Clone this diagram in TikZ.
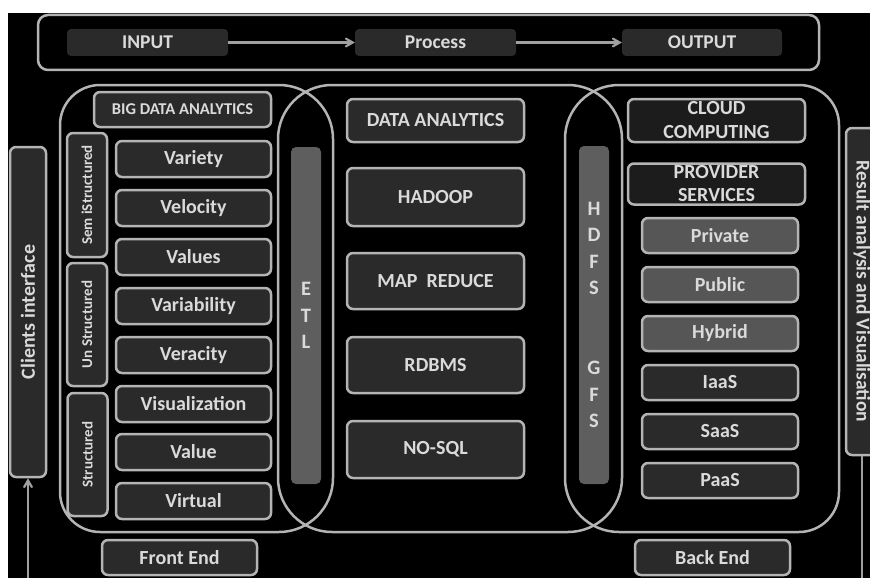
\documentclass[tikz,border=0pt]{standalone}
\usepackage{fontspec}
\setmainfont{Carlito}
\usepackage{xcolor}
\usepackage{tikz}
\usetikzlibrary{arrows}

\definecolor{edgegray}{HTML}{B4B4B4}
\definecolor{boxgray}{HTML}{2A2A2A}
\definecolor{darkbox}{HTML}{1C1C1C}
\definecolor{txtgray}{HTML}{DADADA}
\definecolor{midgray}{HTML}{565656}
\definecolor{bargray}{HTML}{5E5E5E}
\definecolor{linkgray}{HTML}{A0A0A0}

\begin{document}
\begin{tikzpicture}[x=1pt, y=-1pt]
        \tikzstyle{Panel} = [draw=edgegray, line width=2.5pt]
        \tikzstyle{Box} = [draw=edgegray, line width=2.5pt, fill=boxgray, rounded corners=6pt,
                           text=txtgray, inner sep=0pt, align=center,
                           font=\bfseries\fontsize{20}{22}\selectfont]
        \tikzstyle{Flow} = [fill=boxgray, rounded corners=4pt, text=txtgray, inner sep=0pt,
                            minimum width=161pt, minimum height=27pt,
                            font=\bfseries\fontsize{19.5}{21}\selectfont]
        \tikzstyle{Bar} = [fill=bargray, rounded corners=5pt, text=txtgray, inner sep=0pt,
                           align=center, minimum width=30pt,
                           font=\bfseries\fontsize{20.5}{26.6}\selectfont]
        \tikzstyle{Link} = [draw=linkgray, line width=2.2pt, >=angle 60]
        % page and background
        \useasboundingbox (0,0) rectangle (870,578);
        \fill[white] (0,0) rectangle (870,578);
        \fill[black] (8,13) rectangle (870,578);
        % top row
        \draw[Panel, rounded corners=10pt] (38,15) rectangle (819,70);
        \node[Flow] (input) at (147.5,42.5) {INPUT};
        \node[Flow] (process) at (435.5,42.5) {Process};
        \node[Flow, minimum width=160pt] (output) at (702,42.5) {OUTPUT};
        \draw[Link, ->] (input) -- (process);
        \draw[Link, ->] (process) -- (output);
        % the three panels
        \draw[Panel] (60,308) [rounded corners=40pt] |- (200,85) [rounded corners=54pt] -| (333,308)
              |- (200,532) [rounded corners=40pt] -| (60,308) -- cycle;
        \draw[Panel, rounded corners=54pt] (278,85) rectangle (622,532);
        \draw[Panel] (839,308) [rounded corners=40pt] |- (700,85) [rounded corners=54pt] -| (565,308)
              |- (700,532) [rounded corners=40pt] -| (839,308) -- cycle;
        % clients side
        \node[Box, minimum width=36pt, minimum height=330pt] (clients) at (28,312)
              {\rotatebox{90}{Clients interface}};
        % big data analytics
        \node[Box, minimum width=177pt, minimum height=35pt, font=\bfseries\fontsize{16.5}{18}\selectfont]
              (bigdata) at (182.5,109.5) {BIG DATA ANALYTICS};
        \tikzstyle{SideBox} = [Box, minimum width=40pt, font=\bfseries\fontsize{15}{17}\selectfont]
        \node[SideBox, minimum height=124pt] (semi) at (87,195) {\rotatebox{90}{Sem iStructured}};
        \node[SideBox, minimum height=123pt] (unstr) at (87,324.5) {\rotatebox{90}{Un Structured}};
        \node[SideBox, minimum height=123pt] (struct) at (87.5,454.5) {\rotatebox{90}{Structured}};
        \tikzstyle{VBox} = [Box, minimum width=155pt, minimum height=36pt]
        \node[VBox] (variety) at (193.5,159) {Variety};
        \node[VBox] (velocity) at (193.5,208) {Velocity};
        \node[VBox] (values) at (193.5,257) {Values};
        \node[VBox] (variability) at (193.5,306) {Variability};
        \node[VBox] (veracity) at (193.5,355) {Veracity};
        \node[VBox] (visual) at (193.5,404) {Visualization};
        \node[VBox] (value) at (193.5,452) {Value};
        \node[VBox] (virtual) at (193.5,501) {Virtual};
        % bars
        \node[Bar, minimum height=337pt] (etl) at (306,315.5) {E\\T\\L};
        \node[Bar, minimum height=338pt] (dfs) at (594,315) {H\\D\\F\\S\\~\\~\\G\\F\\S};
        % data analytics
        \tikzstyle{MBox} = [Box, minimum width=177pt]
        \node[MBox, minimum height=43pt] (analytics) at (435.5,120.5) {DATA ANALYTICS};
        \node[MBox, minimum height=58pt] (hadoop) at (435.5,197) {HADOOP};
        \node[MBox, minimum height=56pt] (mapred) at (435.5,281) {MAP\ \ REDUCE};
        \node[MBox, minimum height=56pt] (rdbms) at (435.5,365) {RDBMS};
        \node[MBox, minimum height=57pt] (nosql) at (435.5,449.5) {NO-SQL};
        % cloud computing
        \node[MBox, fill=darkbox, minimum height=43pt, font=\bfseries\fontsize{20}{24}\selectfont]
              (cloud) at (716.5,120.5) {CLOUD\\COMPUTING};
        \node[MBox, fill=darkbox, minimum height=41pt, font=\bfseries\fontsize{20}{23}\selectfont]
              (provider) at (716.5,184) {PROVIDER\\SERVICES};
        \tikzstyle{CBox} = [Box, minimum width=156pt, minimum height=35pt]
        \node[CBox, fill=midgray] (private) at (720,235.5) {Private};
        \node[CBox, fill=midgray] (public) at (720,284.5) {Public};
        \node[CBox, fill=midgray] (hybrid) at (720,333.5) {Hybrid};
        \node[CBox] (iaas) at (720,382.5) {IaaS};
        \node[CBox] (saas) at (720,431.5) {SaaS};
        \node[CBox] (paas) at (720,480.5) {PaaS};
        % result side
        \node[Box, minimum width=32pt, minimum height=327pt, font=\bfseries\fontsize{19.5}{21}\selectfont]
              (result) at (862,291.5) {\rotatebox{-90}{Result analysis and Visualisation}};
        % ends
        \node[VBox, minimum height=35pt] (front) at (179.5,557.5) {Front End};
        \node[VBox, minimum height=35pt] (back) at (712.5,557.5) {Back End};
        \coordinate (cbase) at (28,578);
        \coordinate (rbase) at (862,578);
        \draw[Link, ->] (cbase) -- (clients.south);
        \draw[Link] (result.south) -- (rbase);
    \end{tikzpicture}
\end{document}
